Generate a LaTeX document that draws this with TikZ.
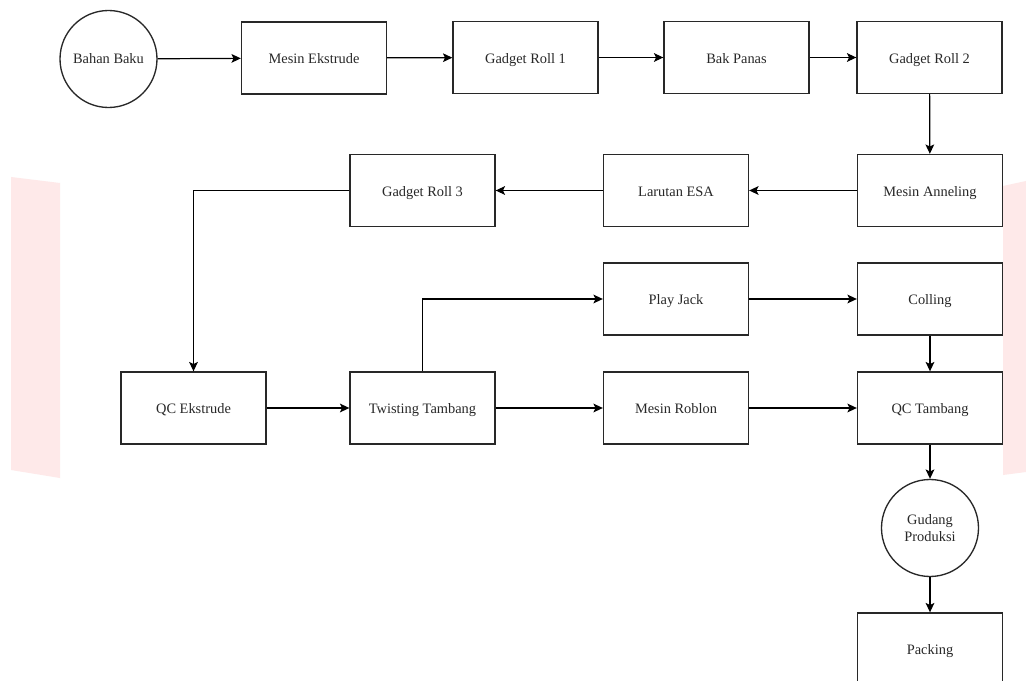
\documentclass[tikz,border=0pt]{standalone}
\usepackage{fontspec}
\setmainfont{Liberation Serif}
\usetikzlibrary{arrows.meta}
\definecolor{wm}{RGB}{254,233,233}
\definecolor{ink}{RGB}{40,40,40}
\begin{document}
\begin{tikzpicture}[x=0.75pt,y=-0.75pt,
  every node/.style={font=\fontsize{10.8}{13}\selectfont, text=ink},
  procbox/.style={draw=ink, line width=1pt, rectangle, minimum width=108.75pt, minimum height=54pt, inner sep=0pt, text height=1.9ex, text depth=0.1ex},
  termcirc/.style={draw=ink, line width=1pt, circle, minimum size=72.75pt, inner sep=0pt, align=center},
  flow/.style={draw=black, line width=0.9pt, -{Stealth[length=7pt,width=6.5pt,inset=1.5pt]}}]
\useasboundingbox (0,0) rectangle (1026,681);
\fill[white] (0,0) rectangle (1026,681);
% faint background marks
\fill[wm] (11,177) -- (60,183) -- (60,478) -- (11,470) -- cycle;
\fill[wm] (1003,186) -- (1026,181) -- (1026,472) -- (1003,475) -- cycle;
% nodes
\node[termcirc] (bahan) at (108.5,59) {Bahan Baku};
\node[procbox] (ekstrude) at (314,58) {Mesin Ekstrude};
\node[procbox] (gr1) at (525.5,57.5) {Gadget Roll 1};
\node[procbox] (bak) at (736.5,57.5) {Bak Panas};
\node[procbox] (gr2) at (929.5,57.5) {Gadget Roll 2};
\node[procbox] (anneling) at (930,190.5) {Mesin Anneling};
\node[procbox] (larutan) at (676,190.5) {Larutan ESA};
\node[procbox] (gr3) at (422.5,190.5) {Gadget Roll 3};
\node[procbox] (playjack) at (676,299) {Play Jack};
\node[procbox] (colling) at (930,299) {Colling};
\node[procbox] (qce) at (193.5,408) {QC Ekstrude};
\node[procbox] (twisting) at (422.5,408) {Twisting Tambang};
\node[procbox] (roblon) at (676,408) {Mesin Roblon};
\node[procbox] (qct) at (930,408) {QC Tambang};
\node[termcirc] (gudang) at (930,528) {Gudang\\Produksi};
\node[procbox] (packing) at (930,649) {Packing};
% connectors
\draw[flow] (bahan) -- (ekstrude);
\draw[flow] (ekstrude) -- (gr1);
\draw[flow] (gr1) -- (bak);
\draw[flow] (bak) -- (gr2);
\draw[flow] (gr2) -- (anneling);
\draw[flow] (anneling) -- (larutan);
\draw[flow] (larutan) -- (gr3);
\draw[flow] (gr3.west) -| (qce.north);
\draw[flow] (qce) -- (twisting);
\draw[flow] (twisting.north) |- (playjack.west);
\draw[flow] (twisting) -- (roblon);
\draw[flow] (playjack) -- (colling);
\draw[flow] (colling) -- (qct);
\draw[flow] (roblon) -- (qct);
\draw[flow] (qct) -- (gudang);
\draw[flow] (gudang) -- (packing);
\end{tikzpicture}
\end{document}
